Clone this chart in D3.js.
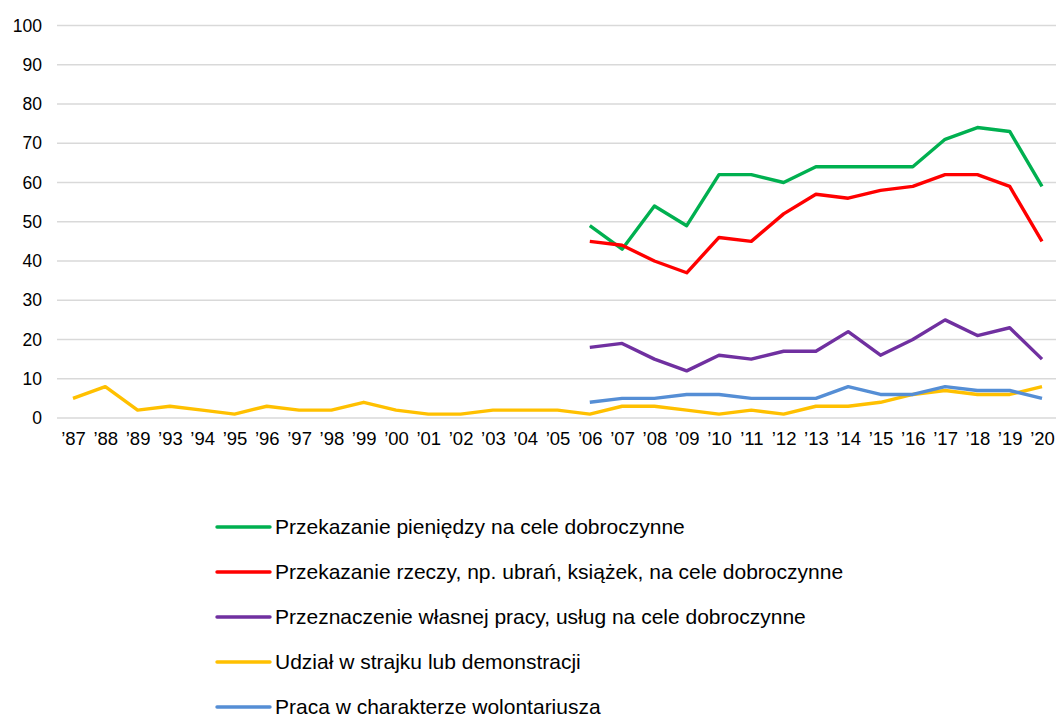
<!DOCTYPE html>
<html><head><meta charset="utf-8">
<script src="https://cdn.jsdelivr.net/npm/d3@7"></script>
<style>body{margin:0;background:#fff}svg{display:block;font-family:"Liberation Sans",Arial,sans-serif}</style>
</head><body><svg id="c" width="1056" height="720"></svg>
<script>
const years = ["’87","’88","’89","’93","’94","’95","’96","’97","’98","’99","’00","’01","’02","’03","’04","’05","’06","’07","’08","’09","’10","’11","’12","’13","’14","’15","’16","’17","’18","’19","’20"];
const yTicks = [0,10,20,30,40,50,60,70,80,90,100];
const lateYears = years.slice(16);
const money = [49,43,54,49,62,62,60,64,64,64,64,71,74,73,59];
const goods = [45,44,40,37,46,45,52,57,56,58,59,62,62,59,45];
const work = [18,19,15,12,16,15,17,17,22,16,20,25,21,23,15];
const strike = [5,8,2,3,2,1,3,2,2,4,2,1,1,2,2,2,1,3,3,2,1,2,1,3,3,4,6,7,6,6,8];
const volunteer = [4,5,5,6,6,5,5,5,8,6,6,8,7,7,5];
const seriesNames = ["Przekazanie pieniędzy na cele dobroczynne","Przekazanie rzeczy, np. ubrań, książek, na cele dobroczynne","Przeznaczenie własnej pracy, usług na cele dobroczynne","Udział w strajku lub demonstracji","Praca w charakterze wolontariusza"];
const colors = ["#00B050","#FF0000","#7030A0","#FFC000","#558ED5"];

const series = [
  {name:seriesNames[0], x:lateYears, v:money, c:colors[0]},
  {name:seriesNames[1], x:lateYears, v:goods, c:colors[1]},
  {name:seriesNames[2], x:lateYears, v:work, c:colors[2]},
  {name:seriesNames[3], x:years, v:strike, c:colors[3]},
  {name:seriesNames[4], x:lateYears, v:volunteer, c:colors[4]}
];

const svg = d3.select("#c");
const x = d3.scalePoint().domain(years).range([73,1042]);
const y = d3.scaleLinear().domain([0,100]).range([418,25.5]);

const grid = svg.append("g");
grid.selectAll("line").data(yTicks).join("line")
  .attr("x1",57).attr("x2",1056)
  .attr("y1",d=>y(d)).attr("y2",d=>y(d))
  .attr("stroke","#d9d9d9").attr("stroke-width",1.3);

const yAxis = svg.append("g").attr("transform","translate(45,0)")
  .call(d3.axisLeft(y).tickValues(yTicks).tickSize(0).tickPadding(3));
yAxis.select(".domain").remove();
yAxis.selectAll("text").attr("font-size",17.5).attr("fill","#000").attr("font-family","Liberation Sans, Arial, sans-serif");

const xAxis = svg.append("g").attr("transform","translate(0,430)")
  .call(d3.axisBottom(x).tickSize(0).tickPadding(2));
xAxis.select(".domain").remove();
xAxis.selectAll("text").attr("font-size",18.5).attr("fill","#000").attr("font-family","Liberation Sans, Arial, sans-serif");

const line = d3.line().x(d=>x(d[0])).y(d=>y(d[1]));
series.forEach(s=>{
  svg.append("path").datum(s.x.map((k,i)=>[k,s.v[i]]))
    .attr("d",line).attr("fill","none").attr("stroke",s.c)
    .attr("stroke-width",3.4).attr("stroke-linejoin","round");
});

const lg = svg.append("g");
series.forEach((s,i)=>{
  const yy = 527 + i*45;
  lg.append("line").attr("x1",217).attr("x2",270).attr("y1",yy).attr("y2",yy)
    .attr("stroke",s.c).attr("stroke-width",3.4).attr("stroke-linecap","round");
  lg.append("text").attr("x",275).attr("y",yy).attr("dy","0.35em")
    .attr("font-size",21).attr("fill","#000").text(s.name);
});
</script></body></html>
